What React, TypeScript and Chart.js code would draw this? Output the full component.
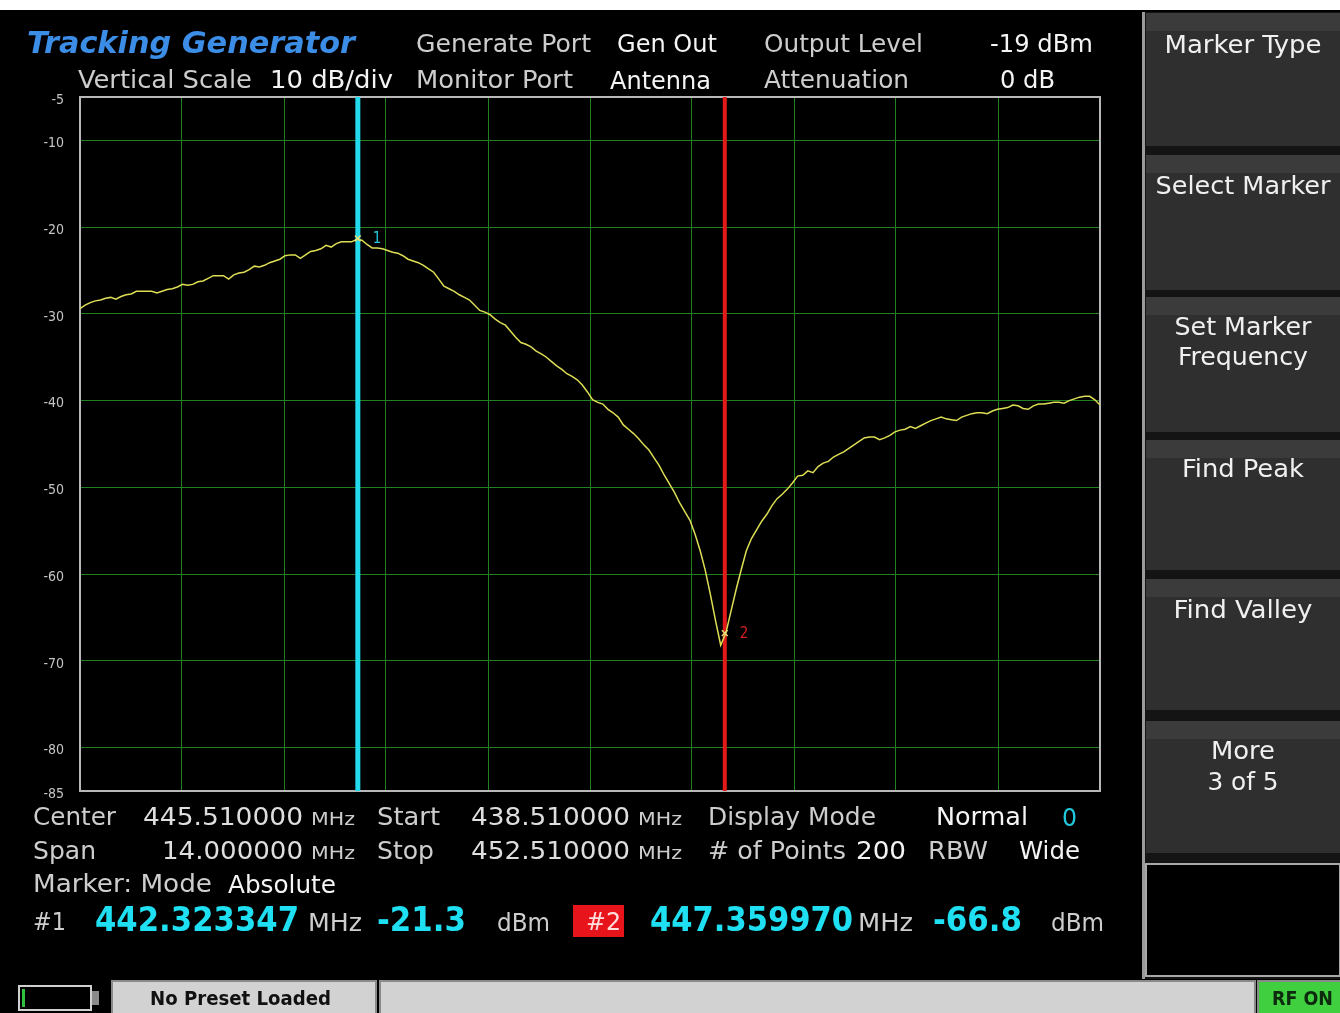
import React, { useEffect, useRef } from "react";
import { Chart, registerables } from "chart.js";

Chart.register(...registerables);

// ---------------- data ----------------
const FREQ_START = 438.51; // MHz
const FREQ_STOP = 452.51; // MHz
const POINT_COUNT = 200;
const X_DIVISIONS = 10;

const TRACE_DBM = [
  -29.4, -29.0, -28.7, -28.5, -28.4, -28.2, -28.1, -28.3, -28.0, -27.8,
  -27.7, -27.4, -27.4, -27.4, -27.4, -27.6, -27.4, -27.2, -27.1, -26.9,
  -26.6, -26.7, -26.6, -26.3, -26.2, -25.9, -25.6, -25.6, -25.6, -26.0,
  -25.5, -25.3, -25.2, -24.9, -24.5, -24.6, -24.4, -24.1, -23.9, -23.7,
  -23.3, -23.2, -23.2, -23.6, -23.2, -22.8, -22.7, -22.5, -22.1, -22.3,
  -21.9, -21.7, -21.7, -21.7, -21.4, -21.5, -22.0, -22.4, -22.4, -22.5,
  -22.7, -22.9, -23.0, -23.3, -23.7, -23.9, -24.1, -24.4, -24.8, -25.2,
  -26.0, -26.8, -27.1, -27.4, -27.8, -28.1, -28.4, -29.0, -29.6, -29.8,
  -30.1, -30.6, -31.0, -31.3, -32.0, -32.7, -33.3, -33.5, -33.8, -34.3,
  -34.6, -35.0, -35.5, -36.0, -36.4, -36.9, -37.2, -37.6, -38.2, -39.0,
  -39.9, -40.2, -40.4, -41.0, -41.4, -41.9, -42.8, -43.3, -43.8, -44.4,
  -45.1, -45.7, -46.6, -47.5, -48.6, -49.6, -50.6, -51.8, -52.8, -53.8,
  -55.4, -57.3, -59.6, -62.4, -65.4, -68.2, -66.8, -64.3, -61.8, -59.5,
  -57.3, -55.9, -54.9, -53.9, -53.1, -52.1, -51.3, -50.8, -50.2, -49.5,
  -48.7, -48.6, -48.1, -48.3, -47.6, -47.2, -47.0, -46.5, -46.2, -45.9,
  -45.5, -45.1, -44.7, -44.3, -44.2, -44.2, -44.5, -44.3, -44.0, -43.6,
  -43.4, -43.3, -43.0, -43.2, -42.9, -42.6, -42.3, -42.1, -41.9, -42.1,
  -42.2, -42.3, -41.9, -41.7, -41.5, -41.4, -41.4, -41.5, -41.2, -41.0,
  -40.9, -40.8, -40.5, -40.6, -40.9, -41.0, -40.6, -40.4, -40.4, -40.3,
  -40.2, -40.2, -40.3, -40.0, -39.8, -39.6, -39.5, -39.5, -39.9, -40.5,
];

const MARKER_FREQS = [442.323347, 447.35997];
const MARKER_DBM = [-21.3, -66.8];
const MARKER_NAMES = ["1", "2"];

const Y_MIN = -85;
const Y_MAX = -5;
const Y_TICKS = [-5, -10, -20, -30, -40, -50, -60, -70, -80, -85];

// ---------------- styles ----------------
const FONT = '"DejaVu Sans Condensed", "DejaVu Sans", sans-serif';
const GRID_GREEN = "rgb(34,128,34)";
const TRACE_YELLOW = "#dede55";
const MARKER_LINE_COLORS = ["#22d9ee", "#e41a1a"];
const MARKER_LABEL_COLORS = ["#22c8dd", "#d42020"];
const LABEL_GRAY = "#cdcdcd";
const VALUE_WHITE = "#f4f4f4";
const CYAN = "#1fe0f2";

type T = {
  t: string;
  x: number;
  y: number;
  w: number;
  s?: number;
  c?: string;
  b?: boolean;
  i?: boolean;
  a?: "start" | "middle";
};

const HEADER_TEXT: T[] = [
  { t: "Tracking Generator", x: 27, y: 53, w: 328, s: 31, c: "#3b8de6", b: true, i: true },
  { t: "Generate Port", x: 416, y: 52, w: 175, c: LABEL_GRAY },
  { t: "Gen Out", x: 617, y: 52, w: 100, c: VALUE_WHITE },
  { t: "Output Level", x: 764, y: 52, w: 159, c: LABEL_GRAY },
  { t: "-19 dBm", x: 990, y: 52, w: 103, c: VALUE_WHITE },
  { t: "Vertical Scale", x: 78, y: 88, w: 174, c: LABEL_GRAY },
  { t: "10 dB/div", x: 270, y: 88, w: 123, c: VALUE_WHITE },
  { t: "Monitor Port", x: 416, y: 88, w: 157, c: LABEL_GRAY },
  { t: "Antenna", x: 610, y: 89, w: 101, c: VALUE_WHITE },
  { t: "Attenuation", x: 764, y: 88, w: 145, c: LABEL_GRAY },
  { t: "0 dB", x: 1000, y: 88, w: 55, c: VALUE_WHITE },
];

const FOOTER_TEXT: T[] = [
  { t: "Center", x: 33, y: 825, w: 83, c: LABEL_GRAY },
  { t: "445.510000", x: 143, y: 825, w: 160, c: "#dedede" },
  { t: "MHz", x: 311, y: 825, w: 44, s: 18, c: LABEL_GRAY },
  { t: "Start", x: 377, y: 825, w: 63, c: LABEL_GRAY },
  { t: "438.510000", x: 471, y: 825, w: 159, c: "#dedede" },
  { t: "MHz", x: 638, y: 825, w: 44, s: 18, c: LABEL_GRAY },
  { t: "Display Mode", x: 708, y: 825, w: 168, c: LABEL_GRAY },
  { t: "Normal", x: 936, y: 825, w: 92, c: VALUE_WHITE },
  { t: "0", x: 1062, y: 826, w: 15, c: "#22c8dd" },
  { t: "Span", x: 33, y: 859, w: 63, c: LABEL_GRAY },
  { t: "14.000000", x: 162, y: 859, w: 141, c: "#dedede" },
  { t: "MHz", x: 311, y: 859, w: 44, s: 18, c: LABEL_GRAY },
  { t: "Stop", x: 377, y: 859, w: 57, c: LABEL_GRAY },
  { t: "452.510000", x: 471, y: 859, w: 159, c: "#dedede" },
  { t: "MHz", x: 638, y: 859, w: 44, s: 18, c: LABEL_GRAY },
  { t: "# of Points", x: 708, y: 859, w: 138, c: LABEL_GRAY },
  { t: "200", x: 856, y: 859, w: 50, c: VALUE_WHITE },
  { t: "RBW", x: 928, y: 859, w: 60, c: LABEL_GRAY },
  { t: "Wide", x: 1019, y: 859, w: 61, c: VALUE_WHITE },
  { t: "Marker: Mode", x: 33, y: 892, w: 179, c: LABEL_GRAY },
  { t: "Absolute", x: 228, y: 893, w: 108, c: VALUE_WHITE },
  { t: "#1", x: 33, y: 930, w: 33, c: LABEL_GRAY },
  { t: "442.323347", x: 95, y: 931, w: 204, s: 34, c: CYAN, b: true },
  { t: "MHz", x: 308, y: 931, w: 54, c: LABEL_GRAY },
  { t: "-21.3", x: 377, y: 931, w: 89, s: 34, c: CYAN, b: true },
  { t: "dBm", x: 497, y: 931, w: 53, c: LABEL_GRAY },
  { t: "#2", x: 586, y: 930, w: 35, c: "#ffdede" },
  { t: "447.359970", x: 650, y: 931, w: 203, s: 34, c: CYAN, b: true },
  { t: "MHz", x: 858, y: 931, w: 55, c: LABEL_GRAY },
  { t: "-66.8", x: 933, y: 931, w: 89, s: 34, c: CYAN, b: true },
  { t: "dBm", x: 1051, y: 931, w: 53, c: LABEL_GRAY },
];

const SOFT_KEYS = [
  { top: 13, bottom: 146, lines: ["Marker Type"], widths: [157], base: [53] },
  { top: 155, bottom: 290, lines: ["Select Marker"], widths: [175], base: [194] },
  { top: 297, bottom: 432, lines: ["Set Marker", "Frequency"], widths: [137, 130], base: [335, 365] },
  { top: 440, bottom: 570, lines: ["Find Peak"], widths: [122], base: [477] },
  { top: 579, bottom: 710, lines: ["Find Valley"], widths: [139], base: [618] },
  { top: 721, bottom: 853, lines: ["More", "3 of 5"], widths: [64, 71], base: [759, 790] },
];

function SvgText({ d }: { d: T }) {
  return (
    <text
      x={d.x}
      y={d.y}
      textLength={d.w}
      lengthAdjust="spacingAndGlyphs"
      textAnchor={d.a || "start"}
      fontFamily={FONT}
      fontSize={d.s || 24}
      fontWeight={d.b ? "bold" : "normal"}
      fontStyle={d.i ? "italic" : "normal"}
      fill={d.c || VALUE_WHITE}
    >
      {d.t}
    </text>
  );
}

function Plot() {
  const ref = useRef<HTMLCanvasElement | null>(null);

  useEffect(() => {
    const canvas = ref.current;
    if (!canvas) return;
    const span = FREQ_STOP - FREQ_START;
    const freqAt = (i: number) => FREQ_START + (i * span) / (POINT_COUNT - 1);

    const trace = TRACE_DBM.map((v, i) => ({ x: freqAt(i), y: v }));
    const markerLines = MARKER_FREQS.map((f, k) => ({
      type: "line" as const,
      data: [
        { x: f, y: Y_MIN },
        { x: f, y: Y_MAX },
      ],
      borderColor: MARKER_LINE_COLORS[k],
      borderWidth: k === 0 ? 5 : 4,
      pointRadius: 0,
      order: 3,
    }));
    const markerPoints = MARKER_FREQS.map((f, k) => ({ x: f, y: MARKER_DBM[k] }));

    const framePlugin = {
      id: "frameAndLabels",
      beforeDatasetsDraw(chart: any) {
        const { ctx, chartArea: a } = chart;
        ctx.save();
        ctx.strokeStyle = "#b8b8b8";
        ctx.lineWidth = 2;
        ctx.strokeRect(a.left, a.top, a.right - a.left, a.bottom - a.top);
        ctx.restore();
      },
      afterDatasetsDraw(chart: any) {
        const { ctx } = chart;
        const xs = chart.scales.x;
        const ys = chart.scales.y;
        ctx.save();
        ctx.font = `15px ${FONT}`;
        ctx.textBaseline = "middle";
        ctx.textAlign = "left";
        MARKER_FREQS.forEach((f, k) => {
          ctx.fillStyle = MARKER_LABEL_COLORS[k];
          ctx.fillText(MARKER_NAMES[k], xs.getPixelForValue(f) + 15, ys.getPixelForValue(MARKER_DBM[k]) + 1);
        });
        ctx.restore();
      },
    };

    const chart = new Chart(canvas, {
      type: "line",
      data: {
        datasets: [
          {
            data: trace,
            borderColor: TRACE_YELLOW,
            borderWidth: 1.5,
            pointRadius: 0,
            tension: 0,
            order: 1,
          },
          {
            type: "scatter",
            data: markerPoints,
            pointStyle: "crossRot",
            pointRadius: 4,
            borderColor: "#e8e07a",
            borderWidth: 1.5,
            showLine: false,
            order: 0,
          } as any,
          ...markerLines,
        ],
      },
      options: {
        animation: false,
        responsive: false,
        devicePixelRatio: 1,
        events: [],
        layout: { padding: { top: 10, right: 10, bottom: 10, left: 0 } },
        plugins: { legend: { display: false }, tooltip: { enabled: false } },
        scales: {
          x: {
            type: "linear",
            min: FREQ_START,
            max: FREQ_STOP,
            afterBuildTicks: (s: any) => {
              s.ticks = Array.from({ length: X_DIVISIONS + 1 }, (_, k) => ({
                value: FREQ_START + (k * span) / X_DIVISIONS,
              }));
            },
            afterFit: (s: any) => {
              s.height = 0;
              s.paddingLeft = 0;
              s.paddingRight = 0;
            },
            ticks: { display: false },
            grid: { color: GRID_GREEN, lineWidth: 1, drawTicks: false },
            border: { display: false },
          },
          y: {
            type: "linear",
            min: Y_MIN,
            max: Y_MAX,
            afterBuildTicks: (s: any) => {
              s.ticks = Y_TICKS.map((v) => ({ value: v }));
            },
            afterFit: (s: any) => {
              s.width = 60;
              s.paddingTop = 0;
              s.paddingBottom = 0;
            },
            ticks: {
              autoSkip: false,
              color: "#c4c4c4",
              font: { size: 14, family: FONT },
              padding: 16,
              labelOffset: 3,
              callback: (v: any) => String(v),
            },
            grid: { color: GRID_GREEN, lineWidth: 1, drawTicks: false },
            border: { display: false },
          },
        },
      } as any,
      plugins: [framePlugin],
    });

    return () => chart.destroy();
  }, []);

  return (
    <canvas
      ref={ref}
      width={1090}
      height={714}
      style={{ position: "absolute", left: 20, top: 87, width: 1090, height: 714 }}
    />
  );
}

export default function App() {
  return (
    <div
      style={{
        position: "fixed",
        left: 0,
        top: 0,
        width: 1340,
        height: 1013,
        background: "#000",
        overflow: "hidden",
      }}
    >
      <div style={{ position: "absolute", left: 0, top: 0, width: 1340, height: 10, background: "#fff" }} />
      <Plot />
      <svg
        width={1340}
        height={1013}
        style={{ position: "absolute", left: 0, top: 0, pointerEvents: "none" }}
      >
        {HEADER_TEXT.map((d, k) => (
          <SvgText key={"h" + k} d={d} />
        ))}
        <rect x={573} y={905} width={51} height={32} fill="#e8141c" />
        {FOOTER_TEXT.map((d, k) => (
          <SvgText key={"f" + k} d={d} />
        ))}

        <rect x={1143} y={12} width={197} height={968} fill="#141414" />
        <rect x={1142} y={12} width={3} height={968} fill="#9a9a9a" />
        {SOFT_KEYS.map((k, i) => (
          <g key={"k" + i}>
            <rect x={1146} y={k.top} width={194} height={k.bottom - k.top} fill="#2f2f2f" />
            <rect x={1146} y={k.top} width={194} height={18} fill="#3b3b3b" />
            {k.lines.map((ln, j) => (
              <SvgText
                key={j}
                d={{ t: ln, x: 1243, y: k.base[j], w: k.widths[j], s: 24, c: "#f0f0f0", a: "middle" }}
              />
            ))}
          </g>
        ))}
        <rect x={1146} y={864} width={194} height={112} fill="#000" stroke="#a8a8a8" strokeWidth={2} />

        <rect x={0} y={979} width={1340} height={34} fill="#000" />
        <rect x={19} y={986} width={72} height={24} fill="#000" stroke="#d0d0d0" strokeWidth={2} />
        <rect x={22} y={989} width={3} height={18} fill="#30c040" />
        <rect x={92} y={991} width={7} height={14} fill="#8a8a8a" />
        <rect x={112} y={981} width={264} height={34} fill="#d2d2d2" stroke="#8a8a8a" strokeWidth={2} />
        <SvgText d={{ t: "No Preset Loaded", x: 150, y: 1005, w: 181, s: 20, c: "#111", b: true }} />
        <rect x={380} y={981} width={875} height={34} fill="#d2d2d2" stroke="#8a8a8a" strokeWidth={2} />
        <rect x={1258} y={981} width={84} height={34} fill="#3fcf3f" stroke="#8a8a8a" strokeWidth={2} />
        <SvgText d={{ t: "RF ON", x: 1272, y: 1005, w: 61, s: 19, c: "#0e2a0e", b: true }} />
      </svg>
    </div>
  );
}
